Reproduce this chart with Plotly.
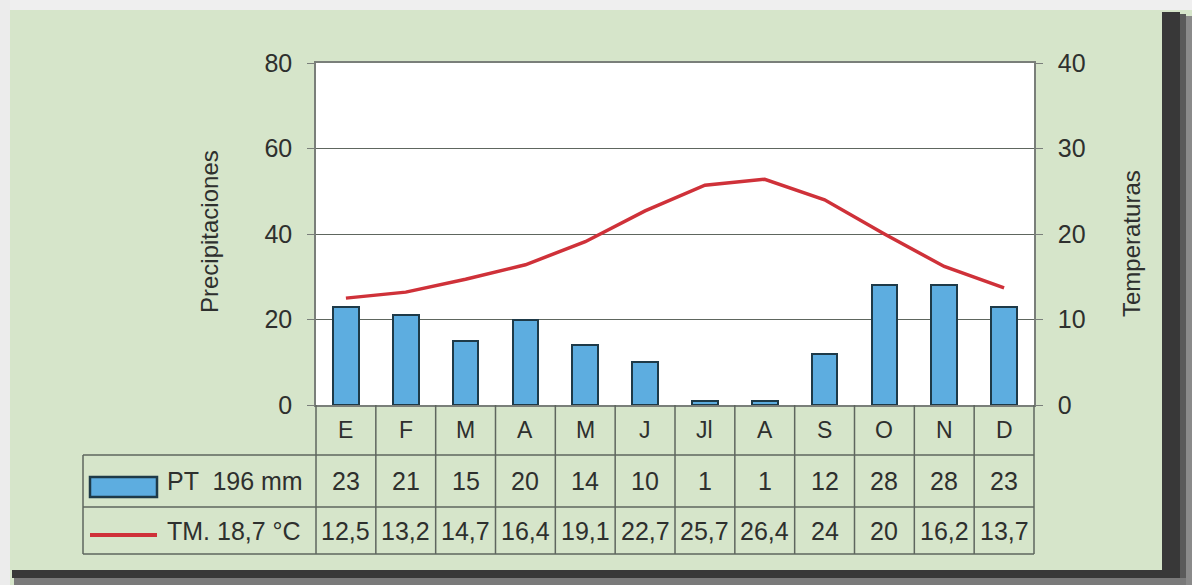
import plotly.graph_objects as go

months = ["E", "F", "M", "A", "M", "J", "Jl", "A", "S", "O", "N", "D"]
precip = [23, 21, 15, 20, 14, 10, 1, 1, 12, 28, 28, 23]
temp = [12.5, 13.2, 14.7, 16.4, 19.1, 22.7, 25.7, 26.4, 24, 20, 16.2, 13.7]
temp_labels = ["12,5", "13,2", "14,7", "16,4", "19,1", "22,7", "25,7", "26,4", "24", "20", "16,2", "13,7"]
precip_label = "PT  196 mm"
temp_label = "TM. 18,7 °C"
left_title = "Precipitaciones"
right_title = "Temperaturas"

W, H = 1192, 585
L, R, T, B = 316, 1034, 63, 405

def px(x):
    return (x - L) / (R - L)

def py(y):
    return (B - y) / (B - T)

FONT = "Liberation Sans, Arial, sans-serif"
TXT = "#2e302e"
GRID = "#5e665e"
BLUE = "#5dade0"
BLUE_EDGE = "#1e3a48"
RED = "#cf3139"
GREEN = "#d6e5ca"

idx = list(range(len(months)))

fig = go.Figure()
fig.add_trace(go.Bar(
    x=idx, y=precip, width=0.43,
    marker=dict(color=BLUE, line=dict(color=BLUE_EDGE, width=2)),
    yaxis="y", showlegend=False, hoverinfo="skip"))
fig.add_trace(go.Scatter(
    x=idx, y=temp, mode="lines",
    line=dict(color=RED, width=3.5),
    yaxis="y2", showlegend=False, hoverinfo="skip"))

shapes = []
def rect(x0, y0, x1, y1, fill, line_color=None, lw=0, layer="above"):
    shapes.append(dict(type="rect", xref="paper", yref="paper",
                       x0=px(x0), x1=px(x1), y0=py(y0), y1=py(y1),
                       fillcolor=fill,
                       line=dict(color=line_color or fill, width=lw),
                       layer=layer))

def line(x0, y0, x1, y1, color=GRID, width=1.5):
    shapes.append(dict(type="line", xref="paper", yref="paper",
                       x0=px(x0), x1=px(x1), y0=py(y0), y1=py(y1),
                       line=dict(color=color, width=width)))

# outer frame and shadow
rect(0, 0, W, 10, "#efefef")
rect(0, 0, 10, H, "#ececec")
rect(1162, 12, 1180, 578, "#383838")
rect(1180, 14, 1186, 582, "#5a5a5a")
rect(1186, 16, W, H, "#8a8a8a")
rect(12, 570, 1180, 578, "#383838")
rect(14, 578, 1186, H, "#7a7a7a")

# table grid
line(83, 455, R, 455)
line(83, 507, R, 507)
line(83, 554, R, 554)
line(83, 455, 83, 554)
col_w = (R - L) / len(months)
for i in range(len(months) + 1):
    x = L + i * col_w
    line(x, 405, x, 554)

# legend swatches
rect(90, 477, 157, 497, BLUE, BLUE_EDGE, 2.5)
line(90, 535, 157, 535, RED, 4)

fig.update_layout(shapes=shapes)

def txt(size):
    return dict(size=size, color=TXT, family=FONT)

ann = []
for i, m in enumerate(months):
    ann.append(dict(x=i, y=py(430), xref="x", yref="paper", text=m,
                    xanchor="center", yanchor="middle", showarrow=False, font=txt(23)))
    ann.append(dict(x=i, y=py(481), xref="x", yref="paper", text=str(precip[i]),
                    xanchor="center", yanchor="middle", showarrow=False, font=txt(25)))
    ann.append(dict(x=i, y=py(531), xref="x", yref="paper", text=temp_labels[i],
                    xanchor="center", yanchor="middle", showarrow=False, font=txt(25)))
ann.append(dict(x=px(165), y=py(481), xref="paper", yref="paper", text=precip_label,
                xanchor="left", yanchor="middle", showarrow=False, font=txt(25)))
ann.append(dict(x=px(165), y=py(531), xref="paper", yref="paper", text=temp_label,
                xanchor="left", yanchor="middle", showarrow=False, font=txt(25)))
ann.append(dict(x=px(210), y=py(232), xref="paper", yref="paper", text=left_title,
                textangle=-90, xanchor="center", yanchor="middle", showarrow=False, font=txt(24)))
ann.append(dict(x=px(1132), y=py(244), xref="paper", yref="paper", text=right_title,
                textangle=-90, xanchor="center", yanchor="middle", showarrow=False, font=txt(24)))

fig.update_layout(
    width=W, height=H,
    margin=dict(l=L, r=W - R, t=T, b=H - B, pad=0),
    paper_bgcolor=GREEN, plot_bgcolor="white",
    annotations=ann,
    bargap=0,
    xaxis=dict(range=[-0.5, 11.5], showticklabels=False, ticks="",
               showgrid=False, zeroline=False, showline=True, mirror=True,
               linecolor="#7a7f7a", linewidth=1.5, fixedrange=True),
    yaxis=dict(range=[0, 80], dtick=20, showgrid=True, gridcolor=GRID, gridwidth=1,
               zeroline=False, showline=True, linecolor="#7a7f7a", linewidth=1.5,
               ticks="outside", ticklen=7, tickcolor="#7a7f7a",
               ticklabelstandoff=10,
               tickfont=txt(25)),
    yaxis2=dict(range=[0, 40], dtick=10, overlaying="y", side="right",
                showgrid=False, zeroline=False, showline=True, linecolor="#7a7f7a",
                linewidth=1.5, ticks="outside", ticklen=7, tickcolor="#7a7f7a",
                ticklabelstandoff=10,
                tickfont=txt(25)),
)

fig.write_html("out.html", config={"displayModeBar": False},
               post_script="document.body.style.margin='0px';document.body.style.overflow='hidden';")
